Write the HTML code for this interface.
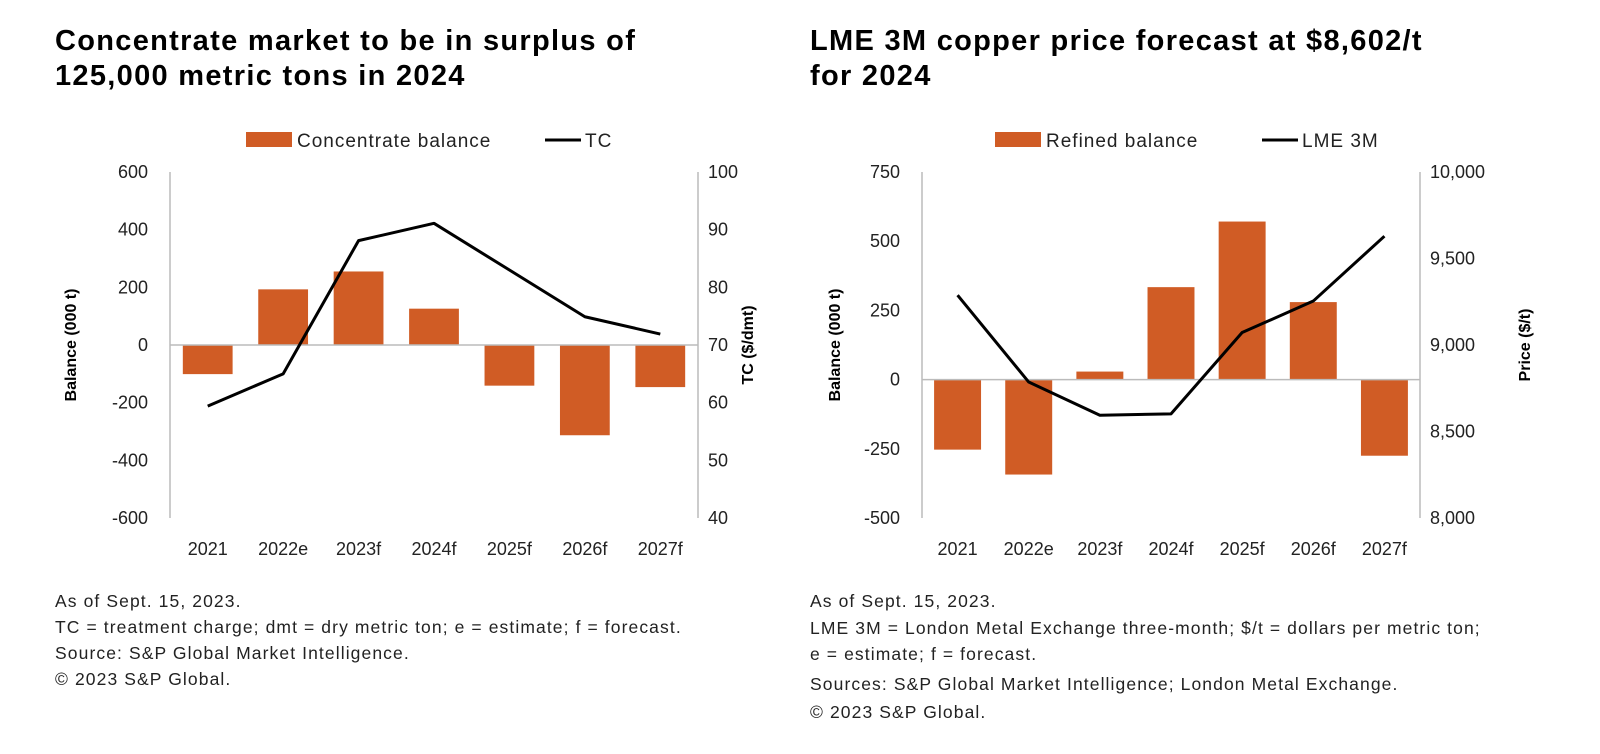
<!DOCTYPE html>
<html><head><meta charset="utf-8"><style>
body{margin:0;background:#fff;font-family:"Liberation Sans",sans-serif;}
svg text{font-family:"Liberation Sans",sans-serif;}
</style></head><body>
<svg width="1600" height="749" xmlns="http://www.w3.org/2000/svg" id="root">
<g id="c1"></g>
<g id="c2"></g>
</svg>
<script>
const categories=["2021","2022e","2023f","2024f","2025f","2026f","2027f"];
const concBalance=[-101,193,255,126,-141,-313,-146];
const tcValues=[59.4,65,88.1,91.1,83,74.9,71.9];
const leftTicks=[600,400,200,0,-200,-400,-600];
const tcTicks=[100,90,80,70,60,50,40];
const refinedBalance=[-253,-343,29,334,571,280,-275];
const lmeValues=[9288,8786,8594,8602,9072,9254,9629];
const rightTicks=[750,500,250,0,-250,-500];
const priceTicks=["10,000","9,500","9,000","8,500","8,000"];
const priceTickVals=[10000,9500,9000,8500,8000];
const NS="http://www.w3.org/2000/svg";
function mk(p,t,a,txt){const e=document.createElementNS(NS,t);for(const k in a)e.setAttribute(k,a[k]);if(txt!==undefined)e.textContent=txt;p.appendChild(e);return e;}
function chart(g,o){
 const {x0,x1,top,bot,lmin,lmax,rmin,rmax}=o;
 const yl=v=>bot-(v-lmin)/(lmax-lmin)*(bot-top);
 const yr=v=>bot-(v-rmin)/(rmax-rmin)*(bot-top);
 const bw=(x1-x0)/categories.length;
 const xc=i=>x0+bw*(i+0.5);
 let t=mk(g,'text',{x:o.tx,y:50,'font-size':29,'font-weight':'bold','letter-spacing':1.3,fill:'#000'},o.t1);
 
 t=mk(g,'text',{x:o.tx,y:85,'font-size':29,'font-weight':'bold','letter-spacing':1.3,fill:'#000'},o.t2);
 
 let lg=mk(g,'g',{});
 let r=mk(lg,'rect',{x:o.lgx,y:132,width:46,height:15,fill:'#d05c25'});
 let lt=mk(lg,'text',{x:o.lgx+51,y:147,'font-size':19,'letter-spacing':1,fill:'#222'},o.lb);
 let ll=mk(lg,'line',{x1:o.lgx2,y1:140,x2:o.lgx2+36,y2:140,stroke:'#000','stroke-width':3});
 lt=mk(lg,'text',{x:o.lgx2+40,y:147,'font-size':19,'letter-spacing':1,fill:'#222'},o.ll);
 let a=mk(g,'line',{x1:x0,y1:top,x2:x0,y2:bot,stroke:'#bbb','stroke-width':1.5});
 a=mk(g,'line',{x1:x1,y1:top,x2:x1,y2:bot,stroke:'#bbb','stroke-width':1.5});
 o.lt.forEach(v=>{let e=mk(g,'text',{x:x0-22,y:yl(v)+6,'font-size':18,'text-anchor':'end',fill:'#222'},String(v));});
 o.rtv.forEach((v,i)=>{let e=mk(g,'text',{x:x1+10,y:yr(v)+6,'font-size':18,fill:'#222'},o.rt[i]);});
 let yt=mk(g,'text',{x:0,y:0,'font-size':16,'font-weight':'bold','text-anchor':'middle',fill:'#000',transform:`translate(${o.ylx},${(top+bot)/2}) rotate(-90)`},o.ylt);
 
 yt=mk(g,'text',{x:0,y:0,'font-size':16,'font-weight':'bold','text-anchor':'middle',fill:'#000',transform:`translate(${o.yrx},${(top+bot)/2}) rotate(-90)`},o.yrt);
 
 categories.forEach((c,i)=>{let e=mk(g,'text',{x:xc(i),y:bot+37,'font-size':18,'text-anchor':'middle',fill:'#222'},c);});
 o.bars.forEach((v,i)=>{const y0=yl(0),y=yl(v);let b=mk(g,'rect',{x:xc(i)-bw*0.33,y:Math.min(y0,y),width:bw*0.66,height:Math.abs(y-y0),fill:'#d05c25'});});
 let z=mk(g,'line',{x1:x0,y1:yl(0),x2:x1,y2:yl(0),stroke:'#bbb','stroke-width':1.5});
 let p=mk(g,'polyline',{points:o.line.map((v,i)=>xc(i)+','+yr(v)).join(' '),fill:'none',stroke:'#000','stroke-width':3,'stroke-linejoin':'round'});
 
 o.notes.forEach((n,i)=>{let e=mk(g,'text',{x:o.tx,y:o.ny[i],'font-size':17.5,'letter-spacing':1.1,fill:'#222'},n);});
}
chart(document.getElementById('c1'),{x0:170,x1:698,top:172,bot:518,lmin:-600,lmax:600,rmin:40,rmax:100,tx:55,
 t1:"Concentrate market to be in surplus of",t2:"125,000 metric tons in 2024",lgx:246,lb:"Concentrate balance",lgx2:545,ll:"TC",
 lt:leftTicks,rt:tcTicks.map(String),rtv:tcTicks,ylx:76,ylt:"Balance (000 t)",yrx:753,yrt:"TC ($/dmt)",bars:concBalance,line:tcValues,
 notes:["As of Sept. 15, 2023.","TC = treatment charge; dmt = dry metric ton; e = estimate; f = forecast.","Source: S&P Global Market Intelligence.","© 2023 S&P Global."],ny:[607,633,659,685]});
chart(document.getElementById('c2'),{x0:922,x1:1420,top:172,bot:518,lmin:-500,lmax:750,rmin:8000,rmax:10000,tx:810,
 t1:"LME 3M copper price forecast at $8,602/t",t2:"for 2024",lgx:995,lb:"Refined balance",lgx2:1262,ll:"LME 3M",
 lt:rightTicks,rt:priceTicks,rtv:priceTickVals,ylx:840,ylt:"Balance (000 t)",yrx:1530,yrt:"Price ($/t)",bars:refinedBalance,line:lmeValues,
 notes:["As of Sept. 15, 2023.","LME 3M = London Metal Exchange three-month; $/t = dollars per metric ton;","e = estimate; f = forecast.","Sources: S&P Global Market Intelligence; London Metal Exchange.","© 2023 S&P Global."],ny:[607,634,660,690,718]});
</script>
</body></html>
